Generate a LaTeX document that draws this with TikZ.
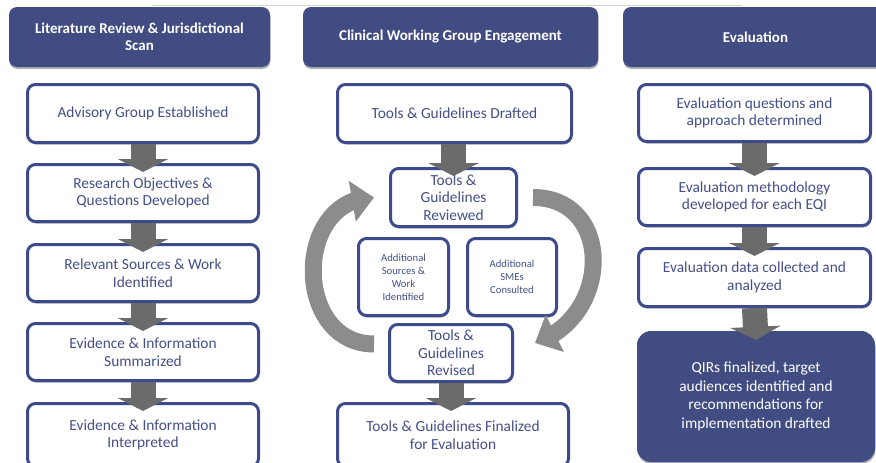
\documentclass[tikz,border=0pt]{standalone}
\usepackage{fontspec}
\setmainfont{Carlito}
\usetikzlibrary{arrows.meta,bending,shadows}

\definecolor{hdblue}{HTML}{414C82}
\definecolor{bdblue}{HTML}{3D4A8B}
\definecolor{txblue}{HTML}{454F88}
\definecolor{arrgray}{HTML}{6B6B6B}
\definecolor{turngray}{HTML}{8C8C8C}

\begin{document}
\begin{tikzpicture}[x=1pt,y=-1pt,
	header/.style={fill=hdblue, rounded corners=8pt, text=white, align=center, inner sep=0pt,
		font=\fontsize{15}{17}\selectfont\bfseries,
		drop shadow={shadow xshift=0.5pt, shadow yshift=-2pt, opacity=.3, fill=black}},
	stage/.style={draw=bdblue, line width=3pt, fill=white, rounded corners=8pt, text=txblue,
		align=center, inner sep=0pt, font=\fontsize{15.4}{17.5}\selectfont,
		drop shadow={shadow xshift=0.5pt, shadow yshift=-2pt, opacity=.3, fill=black}},
	small/.style={stage, font=\fontsize{10.7}{13}\selectfont},
	flow/.style={draw=arrgray, line width=25pt, -{Triangle[length=13pt,width=50pt]}},
	turnarrow/.style={draw=turngray, line width=17pt, -{Triangle[length=22pt,width=40pt]}}]
	\useasboundingbox (0,0) rectangle (876,463);
	\clip (0,0) rectangle (876,463);
	\draw[gray!35, line width=1pt] (152,5) -- (742,5); %top line
	% headers
	\node[header, minimum width=261pt, minimum height=60pt] (lit) at (139.5,37) {Literature Review \& Jurisdictional\\Scan};
	\node[header, minimum width=295pt, minimum height=60pt] (cwg) at (450.5,37) {Clinical Working Group Engagement};
	\node[header, minimum width=265pt, minimum height=60pt] (eval) at (755.5,37) {Evaluation};
	% left column
	\node[stage, minimum width=231pt, minimum height=58pt] (adv) at (143,113.5) {Advisory Group Established};
	\node[stage, minimum width=231pt, minimum height=57pt] (obj) at (143,193) {Research Objectives \&\\Questions Developed};
	\node[stage, minimum width=231pt, minimum height=57pt] (src) at (143,273) {Relevant Sources \& Work\\Identified};
	\node[stage, minimum width=231pt, minimum height=57pt] (sum) at (143,352) {Evidence \& Information\\Summarized};
	\node[stage, minimum width=231pt, minimum height=63pt] (int) at (143,435) {Evidence \& Information\\Interpreted};
	\foreach \a/\b in {adv/obj,obj/src,src/sum,sum/int}
		\draw[flow] (\a.south) -- ([yshift=-9pt]\b.north);
	% middle column
	\node[stage, minimum width=234pt, minimum height=58pt] (drafted) at (454.5,113.5) {Tools \& Guidelines Drafted};
	\node[stage, minimum width=126pt, minimum height=58pt] (reviewed) at (453.5,197.5) {Tools \&\\Guidelines\\Reviewed};
	\node[small, minimum width=90pt, minimum height=77pt] (addsrc) at (403.5,277) {Additional\\Sources \&\\Work\\Identified};
	\node[small, minimum width=89pt, minimum height=77pt] (addsme) at (512,277) {Additional\\SMEs\\Consulted};
	\node[stage, minimum width=123pt, minimum height=57pt] (revised) at (451,353) {Tools \&\\Guidelines\\Revised};
	\node[stage, minimum width=231pt, minimum height=63pt] (final) at (453,435) {Tools \& Guidelines Finalized\\for Evaluation};
	\draw[flow] (drafted.south -| reviewed.north) -- ([yshift=-9pt]reviewed.north);
	\draw[flow] (revised.south) -- ([yshift=-9pt]revised.south |- final.north);
	\draw[turnarrow] ([xshift=-14pt,yshift=9pt]revised.west) .. controls +(-81,0) and +(-81,0) .. ([xshift=-15pt]reviewed.west); %back up
	\draw[turnarrow] ([xshift=15pt]reviewed.east) .. controls +(80,0) and +(78,-27) .. ([xshift=21pt,yshift=10pt]revised.east); %down again
	% right column
	\node[stage, minimum width=232pt, minimum height=57pt] (quest) at (754.5,113) {Evaluation questions and\\approach determined};
	\node[stage, minimum width=232pt, minimum height=57pt] (meth) at (754.5,197) {Evaluation methodology\\developed for each EQI};
	\node[stage, minimum width=232pt, minimum height=58pt] (data) at (754.5,277.5) {Evaluation data collected and\\analyzed};
	\node[header, rounded corners=14pt, font=\fontsize{15.4}{18.5}\selectfont, minimum width=238pt, minimum height=131pt] (qir) at (756,396.5) {QIRs finalized, target\\audiences identified and\\recommendations for\\implementation drafted};
	\foreach \a/\b in {quest/meth,meth/data,data/qir}
		\draw[flow] (\a.south) -- ([yshift=-9pt]\b.north);
\end{tikzpicture}
\end{document}
